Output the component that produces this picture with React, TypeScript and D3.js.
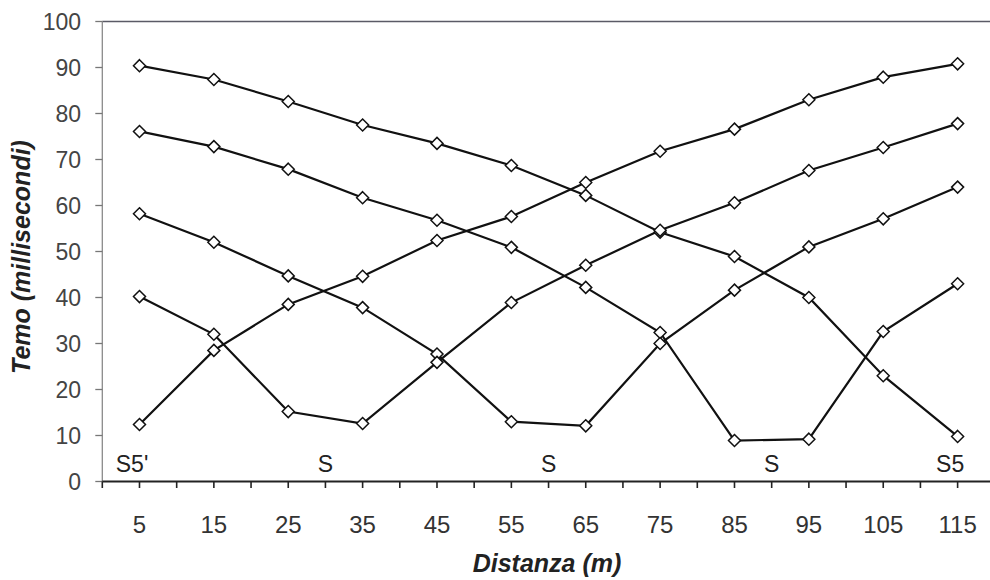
import React from "react";
import * as d3 from "d3";

const distances = [5, 15, 25, 35, 45, 55, 65, 75, 85, 95, 105, 115];
const shotS5 = [90.4, 87.4, 82.6, 77.5, 73.5, 68.7, 62.2, 54.2, 48.9, 40, 23, 9.8];
const shotS5p = [12.4, 28.5, 38.5, 44.6, 52.4, 57.6, 65, 71.8, 76.6, 83, 87.9, 90.8];
const shotS90 = [76.1, 72.8, 67.9, 61.7, 56.8, 50.9, 42.2, 32.4, 8.9, 9.2, 32.6, 43];
const shotS60 = [58.2, 52, 44.7, 37.8, 27.7, 13, 12.1, 30, 41.6, 51, 57.1, 64];
const shotS30 = [40.2, 32, 15.2, 12.6, 25.9, 38.9, 47, 54.6, 60.6, 67.6, 72.6, 77.8];
const seriesList = [shotS5, shotS5p, shotS90, shotS60, shotS30];
const yTicks = [0, 10, 20, 30, 40, 50, 60, 70, 80, 90, 100];
const xMinorTicks = d3.range(0, 125, 5);
const shotLabels = ["S5'", "S", "S", "S", "S5"];
const shotPositions = [4, 30, 60, 90, 114];

export default function App() {
  const W = 990, H = 580;
  const x = d3.scaleLinear().domain([0, 120]).range([102.3, 994.8]);
  const y = d3.scaleLinear().domain([0, 100]).range([481.5, 21.5]);
  const line = d3.line<number>().x((_, i) => x(distances[i])).y((d) => y(d));
  const font = "'Liberation Sans', Arial, sans-serif";
  const diamond = (cx: number, cy: number) => {
    const r = 6;
    return `M${cx},${cy - r}L${cx + r},${cy}L${cx},${cy + r}L${cx - r},${cy}Z`;
  };
  return (
    <svg width={W} height={H} style={{ position: "absolute", left: 0, top: 0, background: "#fff" }} fontFamily={font}>
      <rect x={0} y={0} width={W} height={H} fill="#fff" />
      <line x1={x(0)} x2={W} y1={y(100)} y2={y(100)} stroke="#5a5a66" strokeWidth={1.4} />
      <line x1={x(0)} x2={x(0)} y1={y(100)} y2={y(0)} stroke="#8a8a8a" strokeWidth={1.3} />
      {yTicks.map((t) => (
        <g key={"y" + t}>
          <line x1={x(0) - 7} x2={x(0)} y1={y(t)} y2={y(t)} stroke="#777" strokeWidth={1.3} />
          <text x={81} y={y(t)} dy="0.36em" textAnchor="end" fontSize={23} fill="#444">{t}</text>
        </g>
      ))}
      <line x1={x(0)} x2={W} y1={y(0)} y2={y(0)} stroke="#222" strokeWidth={2} />
      {xMinorTicks.map((t) => (
        <line key={"xt" + t} x1={x(t)} x2={x(t)} y1={y(0)} y2={y(0) + 6.5} stroke="#222" strokeWidth={1.6} />
      ))}
      {distances.map((d) => (
        <text key={"xl" + d} x={x(d)} y={533} textAnchor="middle" fontSize={24} fill="#333">{d}</text>
      ))}
      <text x={547} y={572} textAnchor="middle" fontSize={25} fontWeight="bold" fontStyle="italic" fill="#222">Distanza (m)</text>
      <text transform={`translate(30,257) rotate(-90)`} textAnchor="middle" fontSize={25} fontWeight="bold" fontStyle="italic" fill="#222">Temo (millisecondi)</text>
      {shotLabels.map((s, i) => (
        <text key={"s" + i} x={x(shotPositions[i])} y={472} textAnchor="middle" fontSize={23} fill="#222">{s}</text>
      ))}
      {seriesList.map((s, si) => (
        <path key={"l" + si} d={line(s) || ""} fill="none" stroke="#111" strokeWidth={2.2} />
      ))}
      {seriesList.map((s, si) => (
        <g key={"m" + si}>
          {s.map((v, i) => (
            <path key={i} d={diamond(x(distances[i]), y(v))} fill="#fff" stroke="#111" strokeWidth={1.5} />
          ))}
        </g>
      ))}
    </svg>
  );
}
